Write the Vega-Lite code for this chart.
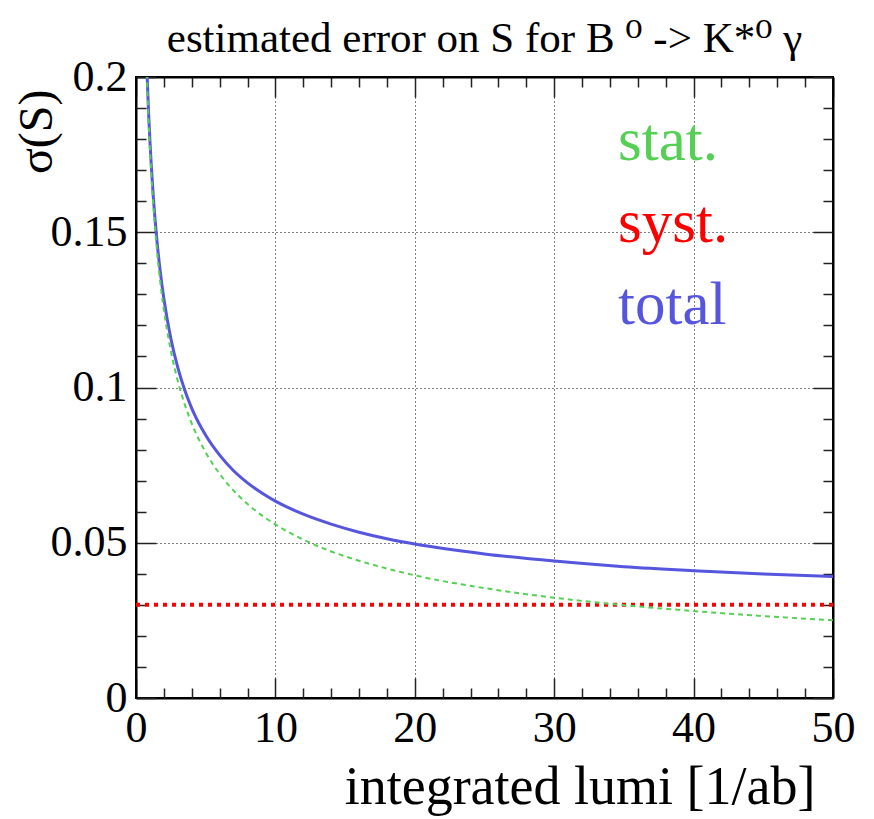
{
  "$schema": "https://vega.github.io/schema/vega-lite/v6.json",
  "width": 697,
  "height": 621,
  "autosize": {"type": "none"},
  "padding": {"left": 136, "top": 77, "right": 41, "bottom": 121},
  "background": "white",
  "title": {"text": "estimated error on S for B ⁰ -> K*⁰ γ", "font": "Liberation Serif, DejaVu Serif, serif", "fontSize": 43, "fontWeight": "normal", "color": "black", "anchor": "middle", "frame": "group", "offset": -6},
  "config": {
    "title": {"font": "Liberation Serif, DejaVu Serif, serif", "fontWeight": "normal"},
    "view": {"stroke": "black", "strokeWidth": 2},
    "axis": {"domainColor": "black", "domainWidth": 2, "tickColor": "#222222", "tickWidth": 1.5, "labelFont": "Liberation Serif", "labelFontSize": 44, "labelColor": "black", "titleFont": "Liberation Serif, DejaVu Serif, serif", "titleFontWeight": "normal", "titleColor": "black", "gridColor": "black", "gridDash": [1, 3], "gridWidth": 1, "gridOpacity": 1, "labelOverlap": false, "labelFlush": false, "labelBound": false},
    "legend": {"labelFont": "Liberation Serif", "labelFontSize": 61, "symbolSize": 0, "symbolStrokeWidth": 0, "symbolOpacity": 0, "labelOffset": 0, "padding": 0, "rowPadding": 20}
  },
  "data": {"values": [
    {"L": 0.75, "sigma": 0.2063, "series": "total"},
    {"L": 0.9, "sigma": 0.1887, "series": "total"},
    {"L": 1, "sigma": 0.1793, "series": "total"},
    {"L": 1.1, "sigma": 0.1712, "series": "total"},
    {"L": 1.25, "sigma": 0.1609, "series": "total"},
    {"L": 1.5, "sigma": 0.1474, "series": "total"},
    {"L": 1.75, "sigma": 0.137, "series": "total"},
    {"L": 2, "sigma": 0.1286, "series": "total"},
    {"L": 2.5, "sigma": 0.1158, "series": "total"},
    {"L": 3, "sigma": 0.1064, "series": "total"},
    {"L": 3.5, "sigma": 0.0991, "series": "total"},
    {"L": 4, "sigma": 0.0933, "series": "total"},
    {"L": 5, "sigma": 0.0846, "series": "total"},
    {"L": 6, "sigma": 0.0782, "series": "total"},
    {"L": 7, "sigma": 0.0732, "series": "total"},
    {"L": 8, "sigma": 0.0693, "series": "total"},
    {"L": 9, "sigma": 0.0661, "series": "total"},
    {"L": 10, "sigma": 0.0634, "series": "total"},
    {"L": 12, "sigma": 0.0592, "series": "total"},
    {"L": 14, "sigma": 0.056, "series": "total"},
    {"L": 16, "sigma": 0.0534, "series": "total"},
    {"L": 18, "sigma": 0.0513, "series": "total"},
    {"L": 20, "sigma": 0.0496, "series": "total"},
    {"L": 25, "sigma": 0.0464, "series": "total"},
    {"L": 30, "sigma": 0.0441, "series": "total"},
    {"L": 35, "sigma": 0.0423, "series": "total"},
    {"L": 40, "sigma": 0.041, "series": "total"},
    {"L": 45, "sigma": 0.0399, "series": "total"},
    {"L": 50, "sigma": 0.0391, "series": "total"},
    {"L": 0, "sigma": 0.03, "series": "syst."},
    {"L": 50, "sigma": 0.03, "series": "syst."},
    {"L": 0.75, "sigma": 0.2041, "series": "stat."},
    {"L": 0.9, "sigma": 0.1863, "series": "stat."},
    {"L": 1, "sigma": 0.1768, "series": "stat."},
    {"L": 1.1, "sigma": 0.1686, "series": "stat."},
    {"L": 1.25, "sigma": 0.1581, "series": "stat."},
    {"L": 1.5, "sigma": 0.1443, "series": "stat."},
    {"L": 1.75, "sigma": 0.1336, "series": "stat."},
    {"L": 2, "sigma": 0.125, "series": "stat."},
    {"L": 2.5, "sigma": 0.1118, "series": "stat."},
    {"L": 3, "sigma": 0.1021, "series": "stat."},
    {"L": 3.5, "sigma": 0.0945, "series": "stat."},
    {"L": 4, "sigma": 0.0884, "series": "stat."},
    {"L": 5, "sigma": 0.0791, "series": "stat."},
    {"L": 6, "sigma": 0.0722, "series": "stat."},
    {"L": 7, "sigma": 0.0668, "series": "stat."},
    {"L": 8, "sigma": 0.0625, "series": "stat."},
    {"L": 9, "sigma": 0.0589, "series": "stat."},
    {"L": 10, "sigma": 0.0559, "series": "stat."},
    {"L": 12, "sigma": 0.051, "series": "stat."},
    {"L": 14, "sigma": 0.0472, "series": "stat."},
    {"L": 16, "sigma": 0.0442, "series": "stat."},
    {"L": 18, "sigma": 0.0417, "series": "stat."},
    {"L": 20, "sigma": 0.0395, "series": "stat."},
    {"L": 25, "sigma": 0.0354, "series": "stat."},
    {"L": 30, "sigma": 0.0323, "series": "stat."},
    {"L": 35, "sigma": 0.0299, "series": "stat."},
    {"L": 40, "sigma": 0.028, "series": "stat."},
    {"L": 45, "sigma": 0.0264, "series": "stat."},
    {"L": 50, "sigma": 0.025, "series": "stat."}
  ]},
  "layer": [
    {
      "transform": [{"filter": "datum.series === 'syst.'"}],
      "mark": {"type": "point", "opacity": 0},
      "encoding": {
        "x": {"field": "L", "type": "quantitative", "scale": {"domain": [0, 50], "nice": false, "zero": false},
          "axis": {"orient": "top", "values": [2,4,6,8,12,14,16,18,22,24,26,28,32,34,36,38,42,44,46,48], "tickSize": -10, "labels": false, "grid": false, "domain": false, "title": null}},
        "y": {"field": "sigma", "type": "quantitative", "scale": {"domain": [0, 0.2], "nice": false},
          "axis": {"orient": "right", "values": [0.01,0.02,0.03,0.04,0.06,0.07,0.08,0.09,0.11,0.12,0.13,0.14,0.16,0.17,0.18,0.19], "tickSize": -10, "labels": false, "grid": false, "domain": false, "title": null}}
      }
    },
    {
      "transform": [{"filter": "datum.series === 'total'"}],
      "mark": {"type": "line", "clip": true, "strokeWidth": 3, "interpolate": "monotone"},
      "encoding": {
        "x": {"field": "L", "type": "quantitative", "scale": {"domain": [0, 50], "nice": false, "zero": false},
          "axis": {"orient": "bottom", "values": [0, 10, 20, 30, 40, 50], "format": "d", "tickSize": -20, "labelPadding": 28, "grid": true, "title": "integrated lumi [1/ab]", "titleFontSize": 54, "titleAlign": "right", "titleX": 679, "titleY": 105, "titleBaseline": "alphabetic"}},
        "y": {"field": "sigma", "type": "quantitative", "scale": {"domain": [0, 0.2], "nice": false},
          "axis": {"orient": "left", "values": [0, 0.05, 0.1, 0.15, 0.2], "format": "~g", "tickSize": -20, "labelPadding": 29, "grid": true, "title": "σ(S)", "titleFontSize": 48, "titleAngle": 270, "titleAlign": "right", "titleAnchor": "end", "titleX": -85, "titleY": 12, "titleBaseline": "alphabetic"}},
        "color": {"field": "series", "type": "nominal", "scale": {"domain": ["stat.", "syst.", "total"], "range": ["#55d055", "#ff0000", "#5555dd"]},
          "legend": {"orient": "none", "legendX": 421, "legendY": 34, "title": null, "encode": {"labels": {"update": {"fill": {"scale": "color", "field": "value"}}}}}}
      }
    },
    {
      "transform": [{"filter": "datum.series === 'syst.'"}],
      "mark": {"type": "line", "clip": true, "strokeWidth": 4, "strokeDash": [4, 5]},
      "encoding": {
        "x": {"field": "L", "type": "quantitative", "scale": {"domain": [0, 50], "nice": false, "zero": false},
          "axis": {"orient": "bottom", "values": [2,4,6,8,12,14,16,18,22,24,26,28,32,34,36,38,42,44,46,48], "tickSize": -10, "labels": false, "grid": false, "domain": false, "title": null}},
        "y": {"field": "sigma", "type": "quantitative", "scale": {"domain": [0, 0.2], "nice": false},
          "axis": {"orient": "left", "values": [0.01,0.02,0.03,0.04,0.06,0.07,0.08,0.09,0.11,0.12,0.13,0.14,0.16,0.17,0.18,0.19], "tickSize": -10, "labels": false, "grid": false, "domain": false, "title": null}},
        "color": {"field": "series", "type": "nominal"}
      }
    },
    {
      "transform": [{"filter": "datum.series === 'stat.'"}],
      "mark": {"type": "line", "clip": true, "strokeWidth": 2, "strokeDash": [5, 4], "interpolate": "monotone"},
      "encoding": {
        "x": {"field": "L", "type": "quantitative", "scale": {"domain": [0, 50], "nice": false, "zero": false},
          "axis": {"orient": "top", "values": [0, 10, 20, 30, 40, 50], "tickSize": -20, "labels": false, "grid": false, "title": null}},
        "y": {"field": "sigma", "type": "quantitative", "scale": {"domain": [0, 0.2], "nice": false},
          "axis": {"orient": "right", "values": [0, 0.05, 0.1, 0.15, 0.2], "tickSize": -20, "labels": false, "grid": false, "title": null}},
        "color": {"field": "series", "type": "nominal"}
      }
    }
  ],
  "resolve": {"axis": {"x": "independent", "y": "independent"}}
}
